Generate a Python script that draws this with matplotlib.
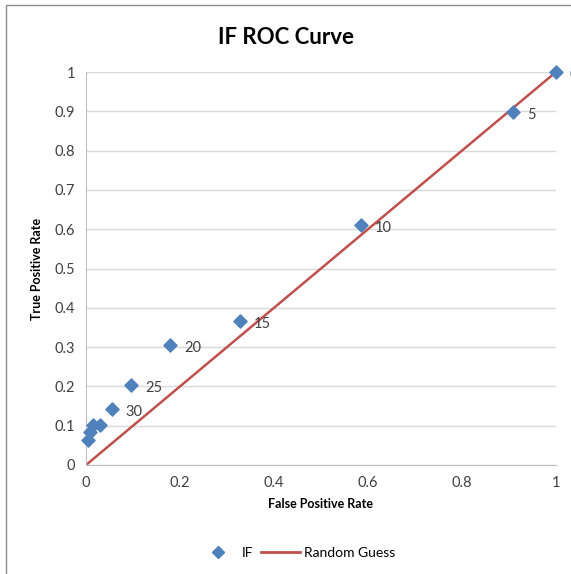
import matplotlib
matplotlib.use("Agg")
import matplotlib.pyplot as plt
from matplotlib.patches import Rectangle
from matplotlib.lines import Line2D

fpr = [1.0, 0.908, 0.585, 0.328, 0.179, 0.096, 0.055, 0.030, 0.015, 0.009, 0.004]
tpr = [1.0, 0.898, 0.611, 0.366, 0.305, 0.204, 0.142, 0.102, 0.102, 0.083, 0.063]
point_labels = ["0", "5", "10", "15", "20", "25", "30", "", "", "", ""]
guess_x = [0, 1]
guess_y = [0, 1]
ticks_x = [0, 0.2, 0.4, 0.6, 0.8, 1]
ticks_y = [0, 0.1, 0.2, 0.3, 0.4, 0.5, 0.6, 0.7, 0.8, 0.9, 1]

plt.rcParams['font.family'] = ['Lato', 'DejaVu Sans']

fig = plt.figure(figsize=(5.71, 5.74), dpi=100)
fig.patches.append(Rectangle((6/571, -0.05), 1.2, 1 - 5/574 + 0.05, transform=fig.transFigure,
                             fill=False, edgecolor='#8c8c8c', linewidth=1.0))
ax = fig.add_axes([86/571, 1 - 465/574, 470/571, 393/574])

ax.plot(guess_x, guess_y, color='#C0504D', linewidth=1.8, label='Random Guess', zorder=2)
ax.scatter(fpr, tpr, marker='D', s=45, color='#4F81BD', label='IF', zorder=3, clip_on=False)
for x, y, t in zip(fpr, tpr, point_labels):
    if t:
        ax.annotate(t, (x, y), xytext=(10, -5), textcoords='offset points',
                    fontsize=10.5, color='#404040', annotation_clip=False)

ax.set_xlim(0, 1)
ax.set_ylim(0, 1)
ax.set_xticks(ticks_x)
ax.set_xticklabels([f"{v:g}" for v in ticks_x])
ax.set_yticks(ticks_y)
ax.set_yticklabels([f"{v:g}" for v in ticks_y])
ax.tick_params(axis='both', labelsize=10.5, colors='#404040', length=0, pad=8)
ax.yaxis.grid(True, color='#d9d9d9', linewidth=1)
ax.set_axisbelow(True)
for s in ['top', 'right']:
    ax.spines[s].set_visible(False)
for s in ['left', 'bottom']:
    ax.spines[s].set_color('#bfbfbf')
ax.set_xlabel('False Positive Rate', fontsize=9, fontweight='bold', labelpad=6)
ax.set_ylabel('True Positive Rate', fontsize=9, fontweight='bold', labelpad=8)

fig.text(0.5, 1 - 37/574, 'IF ROC Curve', ha='center', va='center', fontsize=16, fontweight='bold')

handles = [Line2D([], [], marker='D', linestyle='none', color='#4F81BD', markersize=6),
           Line2D([], [], color='#C0504D', linewidth=2)]
fig.legend(handles, ['IF', 'Random Guess'], loc='center', bbox_to_anchor=(0.52, 1 - 553/574),
           ncol=2, frameon=False, fontsize=10, handlelength=2.8, columnspacing=0.6, handletextpad=0.3)

fig.savefig('out.png', dpi=100)
